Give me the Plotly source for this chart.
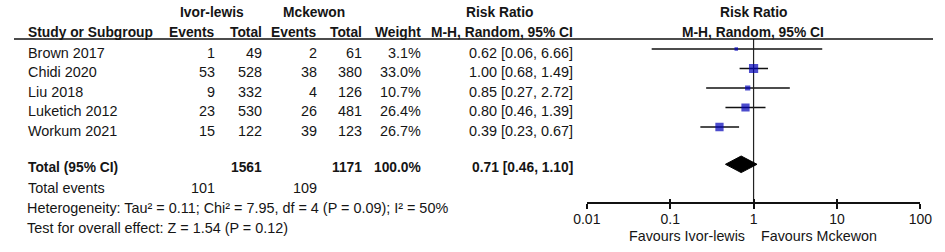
import math
import plotly.graph_objects as go

# ---------------- data ----------------
studies = ["Brown 2017", "Chidi 2020", "Liu 2018", "Luketich 2012", "Workum 2021"]
ivor_events = [1, 53, 9, 23, 15]
ivor_total = [49, 528, 332, 530, 122]
mck_events = [2, 38, 4, 26, 39]
mck_total = [61, 380, 126, 481, 123]
weights = [3.1, 33.0, 10.7, 26.4, 26.7]
rr = [0.62, 1.00, 0.85, 0.80, 0.39]
ci_lo = [0.06, 0.68, 0.27, 0.46, 0.23]
ci_hi = [6.66, 1.49, 2.72, 1.39, 0.67]

total_ivor = 1561
total_mck = 1171
total_weight = 100.0
pooled_rr = 0.71
pooled_lo = 0.46
pooled_hi = 1.10
events_ivor_sum = 101
events_mck_sum = 109
heterogeneity = "Heterogeneity: Tau² = 0.11; Chi² = 7.95, df = 4 (P = 0.09); I² = 50%"
overall_test = "Test for overall effect: Z = 1.54 (P = 0.12)"

tick_vals = [0.01, 0.1, 1, 10, 100]
tick_text = ["0.01", "0.1", "1", "10", "100"]
favours_left = "Favours Ivor-lewis"
favours_right = "Favours Mckewon"

# ---------------- layout constants (pixels) ----------------
W, H = 945, 252
FONT = "Liberation Sans, Arial, sans-serif"
TXT = "#151515"
REG = 14.4
BLD = 13.8

row0_mark, row_step = 49.0, 19.5
text_off = 3.5
total_mark_y = 164.3
axis_y = 203.3
header_line_y = 39
x_dom = (589 / W, 932 / W)

col_ev1, col_tot1, col_ev2, col_tot2, col_w, col_rr = 208, 256, 313, 359, 420, 576
col_study = 13

annotations = []


def ann(text, x, y, anchor="left", bold=False, size=None, color=TXT):
    if size is None:
        size = BLD if bold else REG
    annotations.append(dict(
        text=f"<b>{text}</b>" if bold else text,
        x=x / W, y=1 - y / H, xref="paper", yref="paper",
        xanchor=anchor, yanchor="middle", showarrow=False, borderpad=0,
        font=dict(family=FONT, size=size, color=color)))


# headers
ann("Ivor-lewis", 204, 12.5, "center", bold=True)
ann("Mckewon", 309, 12.5, "center", bold=True)
ann("Risk Ratio", 499, 12.5, "center", bold=True)
ann("Risk Ratio", 760, 12.5, "center", bold=True)
ann("Study or Subgroup", col_study, 33, "left", bold=True)
ann("Events", col_ev1, 33, "right", bold=True)
ann("Total", col_tot1, 33, "right", bold=True)
ann("Events", col_ev2, 33, "right", bold=True)
ann("Total", col_tot2, 33, "right", bold=True)
ann("Weight", col_w, 33, "right", bold=True)
ann("M-H, Random, 95% CI", col_rr, 33, "right", bold=True)
ann("M-H, Random, 95% CI", 759.5, 33, "center", bold=True)

# rows
row_y = [row0_mark + i * row_step for i in range(len(studies))]
for i, s in enumerate(studies):
    ty = row_y[i] + text_off
    ann(s, col_study, ty, "left")
    ann(str(ivor_events[i]), col_ev1, ty, "right")
    ann(str(ivor_total[i]), col_tot1, ty, "right")
    ann(str(mck_events[i]), col_ev2, ty, "right")
    ann(str(mck_total[i]), col_tot2, ty, "right")
    ann(f"{weights[i]:.1f}%", col_w, ty, "right")
    ann(f"{rr[i]:.2f} [{ci_lo[i]:.2f}, {ci_hi[i]:.2f}]", col_rr, ty, "right")

# totals
ty = 167.8
ann("Total (95% CI)", col_study, ty, "left", bold=True)
ann(str(total_ivor), col_tot1, ty, "right", bold=True)
ann(str(total_mck), col_tot2, ty, "right", bold=True)
ann(f"{total_weight:.1f}%", col_w, ty, "right", bold=True)
ann(f"{pooled_rr:.2f} [{pooled_lo:.2f}, {pooled_hi:.2f}]", col_rr, ty, "right", bold=True)

ann("Total events", col_study, 188.3, "left")
ann(str(events_ivor_sum), col_ev1, 188.3, "right")
ann(str(events_mck_sum), col_ev2, 188.3, "right")
ann(heterogeneity, col_study - 1, 208.3, "left")
ann(overall_test, col_study - 1, 228.3, "left")

ann(favours_left, 753, 236, "right", size=14.3)
ann(favours_right, 767, 236, "left", size=14.3)

# ---------------- traces ----------------
fig = go.Figure()

# CI lines
cx, cy = [], []
for i in range(len(studies)):
    cx += [ci_lo[i], ci_hi[i], None]
    cy += [row_y[i], row_y[i], None]
fig.add_trace(go.Scatter(x=cx, y=cy, mode="lines", line=dict(color="#111111", width=1.5),
                         hoverinfo="skip", showlegend=False))

# line of no effect
fig.add_trace(go.Scatter(x=[1, 1], y=[header_line_y, axis_y], mode="lines",
                         line=dict(color="#222222", width=1.2), hoverinfo="skip", showlegend=False))

# squares
sizes = [max(3.5, 1.6 * math.sqrt(w)) for w in weights]
fig.add_trace(go.Scatter(x=rr, y=row_y, mode="markers",
                         marker=dict(symbol="square", size=sizes, color="#0000b8",
                                     line=dict(width=0)),
                         hoverinfo="skip", showlegend=False))

# diamond
dh = 8.3
fig.add_trace(go.Scatter(
    x=[pooled_lo, pooled_rr, pooled_hi, pooled_rr, pooled_lo],
    y=[total_mark_y, total_mark_y - dh, total_mark_y, total_mark_y + dh, total_mark_y],
    mode="lines", fill="toself", fillcolor="#000000", line=dict(color="#000000", width=1),
    hoverinfo="skip", showlegend=False))

# dummy trace for the overlaid axis (upper tick halves)
fig.add_trace(go.Scatter(x=[1], y=[axis_y], xaxis="x2", mode="markers",
                         marker=dict(size=0.1, opacity=0), hoverinfo="skip", showlegend=False))

axis_pos = 1 - axis_y / H
common_x = dict(type="log", range=[-2, 2], domain=list(x_dom), anchor="free",
                position=axis_pos, showgrid=False, zeroline=False,
                tickvals=tick_vals, ticktext=tick_text, tickwidth=1.5, tickcolor="#111111",
                ticklen=4.5, fixedrange=True)
fig.update_layout(
    width=W, height=H, margin=dict(l=0, r=0, t=0, b=0),
    paper_bgcolor="white", plot_bgcolor="rgba(0,0,0,0)",
    xaxis=dict(**common_x, ticks="outside", showline=True, linecolor="#111111", linewidth=1.5,
               ticklabelstandoff=-1,
               tickfont=dict(family=FONT, size=14, color=TXT)),
    xaxis2=dict(**common_x, overlaying="x", ticks="inside", showline=False,
                showticklabels=False),
    yaxis=dict(range=[H, 0], domain=[0, 1], visible=False, fixedrange=True),
    shapes=[dict(type="line", xref="paper", yref="paper", x0=0, x1=1,
                 y0=1 - header_line_y / H, y1=1 - header_line_y / H,
                 line=dict(color="#111111", width=1.5))],
    annotations=annotations,
)

fig.write_html("out.html", config={"displayModeBar": False},
               post_script="document.body.style.margin='0';document.body.style.overflow='hidden';")
